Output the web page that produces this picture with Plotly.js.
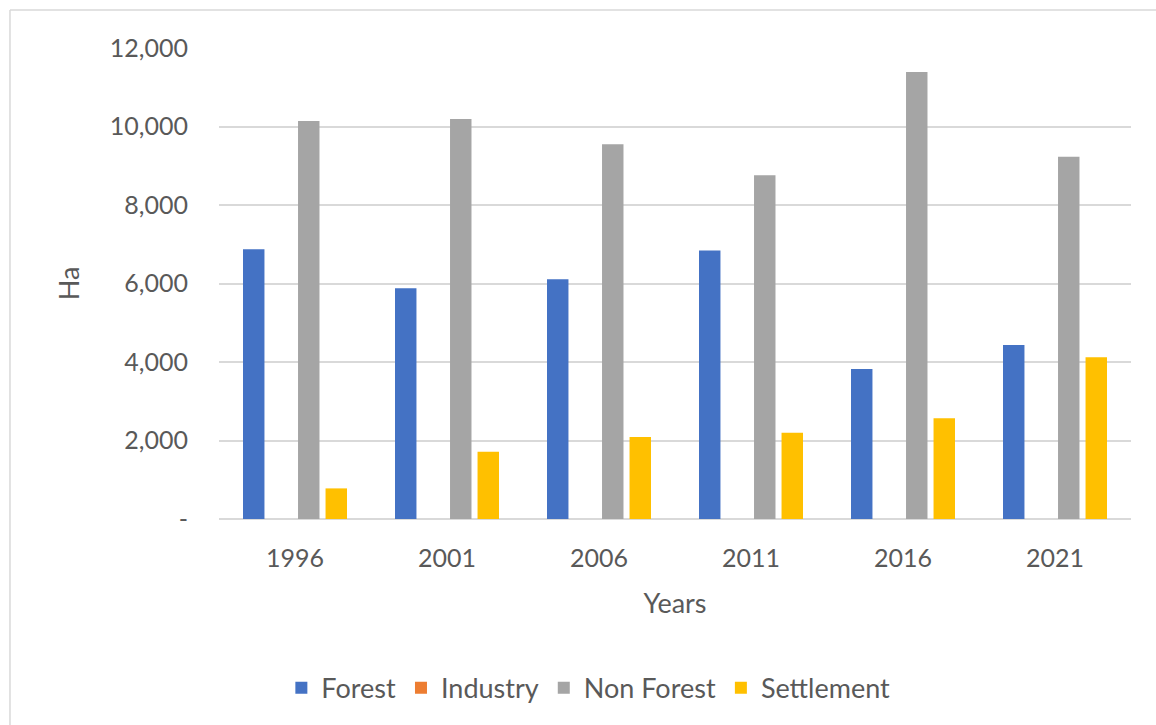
<!DOCTYPE html>
<html>
<head>
<meta charset="utf-8">
<script src="https://cdn.plot.ly/plotly-3.0.1.min.js"></script>
<style>
  html, body { margin: 0; padding: 0; background: #ffffff; overflow: hidden; }
  #chart { width: 1156px; height: 725px; }
</style>
</head>
<body>
<div id="chart"></div>
<script>
// ---- data ----
const years = ["1996", "2001", "2006", "2011", "2016", "2021"];
const forest = [6870, 5880, 6110, 6840, 3820, 4430];
const industry = [0, 0, 0, 0, 0, 0];
const nonForest = [10140, 10190, 9550, 8760, 11390, 9230];
const settlement = [780, 1715, 2090, 2200, 2570, 4120];

const yTickVals = [0, 2000, 4000, 6000, 8000, 10000, 12000];
const yTickText = ["-", "2,000", "4,000", "6,000", "8,000", "10,000", "12,000"];

const seriesNames = ["Forest", "Industry", "Non Forest", "Settlement"];
const seriesColors = ["#4472C4", "#ED7D31", "#A5A5A5", "#FFC000"];
const seriesValues = [forest, industry, nonForest, settlement];

const textColor = "#595959";
const gridColor = "#D9D9D9";
const fontFamily = "Lato, 'Open Sans', sans-serif";

const traces = seriesNames.map((name, i) => ({
  type: "bar",
  name: name,
  x: years,
  y: seriesValues[i],
  marker: { color: seriesColors[i], line: { width: 0 } },
  hoverinfo: "x+y+name"
}));

const layout = {
  width: 1156,
  height: 725,
  margin: { l: 219, r: 25, t: 48, b: 206, pad: 0 },
  paper_bgcolor: "#ffffff",
  plot_bgcolor: "#ffffff",
  font: { family: fontFamily, color: textColor, size: 25 },
  barmode: "group",
  bargap: 0.276,
  bargroupgap: 0.22,
  showlegend: true,
  legend: {
    orientation: "h",
    x: 0.405,
    xanchor: "center",
    y: -0.359,
    yanchor: "middle",
    font: { family: fontFamily, color: textColor, size: 27 },
    itemwidth: 30,
    traceorder: "normal",
    bgcolor: "rgba(0,0,0,0)"
  },
  xaxis: {
    type: "category",
    showgrid: false,
    showline: false,
    zeroline: false,
    ticks: "",
    ticklabelstandoff: 22,
    tickfont: { family: fontFamily, color: textColor, size: 25 },
    title: { text: "Years", font: { family: fontFamily, color: textColor, size: 27 }, standoff: 23 }
  },
  yaxis: {
    range: [0, 12000],
    tickvals: yTickVals,
    ticktext: yTickText,
    showgrid: true,
    gridcolor: gridColor,
    gridwidth: 1.5,
    zeroline: true,
    zerolinecolor: gridColor,
    zerolinewidth: 1.5,
    showline: false,
    ticks: "",
    ticklabelstandoff: 30,
    tickfont: { family: fontFamily, color: textColor, size: 25 },
    title: { text: "Ha", font: { family: fontFamily, color: textColor, size: 27 }, standoff: 22 }
  },
  shapes: [
    { type: "line", xref: "paper", yref: "paper", x0: -0.2292, x1: 1.03, y0: 1.0807, y1: 1.0807,
      line: { color: "#D9D9D9", width: 1.5 }, layer: "below" },
    { type: "line", xref: "paper", yref: "paper", x0: -0.2292, x1: -0.2292, y0: 1.0807, y1: -0.45,
      line: { color: "#D9D9D9", width: 1.5 }, layer: "below" }
  ]
};

Plotly.newPlot("chart", traces, layout, { displayModeBar: false, staticPlot: false });
</script>
</body>
</html>
